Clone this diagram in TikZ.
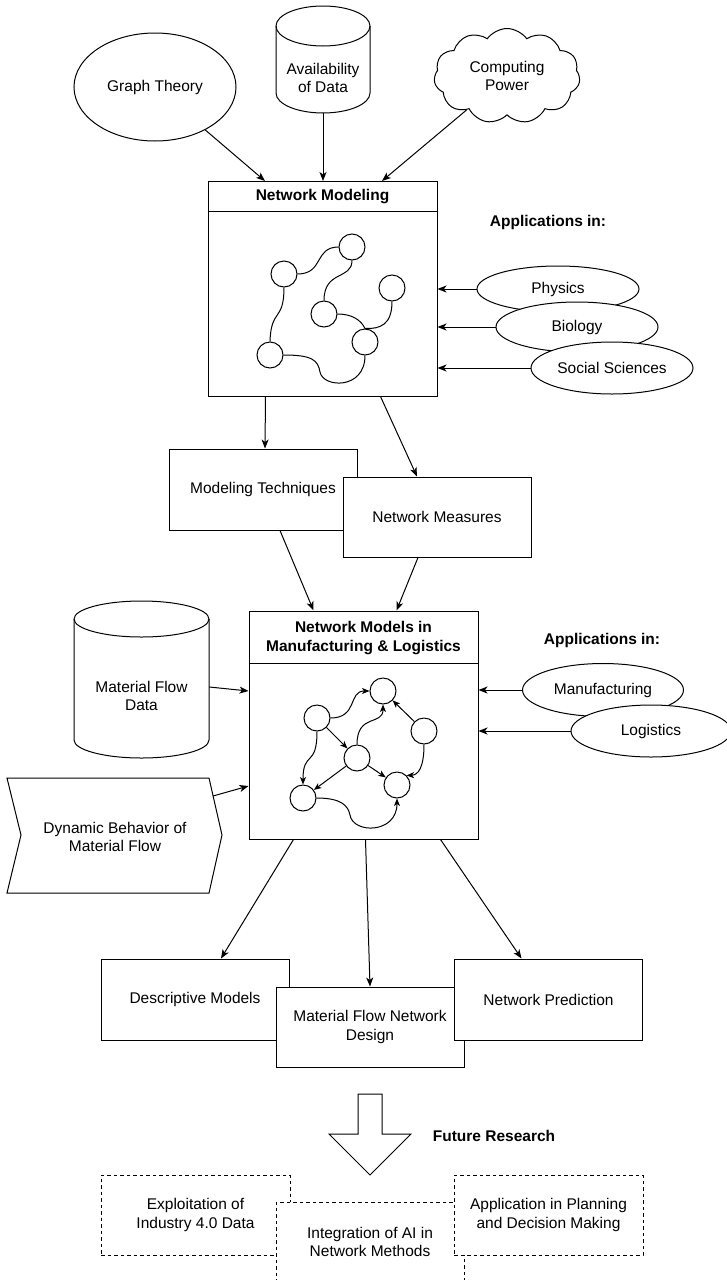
\documentclass[tikz,border=0pt]{standalone}
\usepackage{fontspec}
\setmainfont{Liberation Sans}
\usetikzlibrary{shapes.geometric,shapes.symbols,arrows.meta,calc}
\begin{document}
\begin{tikzpicture}[x=1pt,y=-1pt,
  every node/.style={font=\fontsize{15.5}{18.5}\selectfont, text=black},
  ln/.style={line width=1pt},
  arr/.style={ln,-{Stealth[length=9pt,width=7pt,inset=2.5pt]}},
  sarr/.style={line width=1pt,-{Stealth[length=7.5pt,width=6pt,inset=2pt]}},
  thin/.style={line width=1pt},
  box/.style={draw,ln,fill=white,rectangle,minimum width=188pt,minimum height=81pt,inner sep=0pt,align=center},
  dbox/.style={box,dash pattern=on 3.5pt off 3pt},
  ell/.style={draw,ln,fill=white,ellipse,inner sep=0pt,minimum width=162pt,align=center},
  dot/.style={draw,line width=1pt,circle,minimum size=26pt,inner sep=0pt},
  ttl/.style={font=\fontsize{15.5}{18.5}\selectfont\bfseries,align=center,inner sep=0pt},
  lbl/.style={align=center,inner sep=0pt}]
\useasboundingbox (0,0) rectangle (726,1280);

% ---------- top inputs ----------
\node[ell,minimum width=162pt,minimum height=108pt] (gt) at (155,87) {Graph Theory};

\draw[ln,fill=white] (276,26) -- (276,93) arc[start angle=180,end angle=360,x radius=47pt,y radius=20pt] -- (370,26) arc[start angle=0,end angle=180,x radius=47pt,y radius=20pt] -- cycle;
\draw[ln] (276,26) arc[start angle=180,end angle=360,x radius=47pt,y radius=20pt];
\node[lbl,minimum width=94pt,minimum height=107pt] (avail) at (323,59.5) {};
\node[lbl] (availt) at (323,78) {Availability\\of Data};

\node[cloud,draw,ln,fill=white,cloud puffs=11,cloud puff arc=110,aspect=1.55,minimum width=146pt,minimum height=95pt,inner sep=0pt,align=center] (cloud) at (507,76) {Computing\\Power};

% ---------- Network Modeling ----------
\node[draw,ln,fill=white,minimum width=229pt,minimum height=215pt,inner sep=0pt] (nmod) at (322.5,288.5) {};
\draw[ln] ([yshift=-31pt]nmod.north west) -- ([yshift=-31pt]nmod.north east);
\node[ttl] (nmodt) at (322.5,197) {Network Modeling};

\coordinate (t1) at (265,181);
\coordinate (t2) at (323,181);
\coordinate (t3) at (382,181);
\draw[arr] (gt) -- (t1);
\draw[arr] (avail) -- (t2);
\draw[arr] (cloud) -- (t3);

\node[dot] (c1) at (284,274) {};
\node[dot] (c2) at (352,247) {};
\node[dot] (c3) at (392,288) {};
\node[dot] (c4) at (324,314) {};
\node[dot] (c5) at (365,342) {};
\node[dot] (c6) at (270,355) {};
\draw[thin] (c1.east) .. controls (324,274) and (314,247) .. (c2.west);
\draw[thin] (c2.south) .. controls (352,280) and (324,270) .. (c4.north);
\draw[thin] (c1.south) .. controls (284,322) and (271,308) .. (c6.north);
\draw[thin] (c4.east) .. controls (352,314) and (361,320) .. (c5.north);
\draw[thin] (c3.south) .. controls (392,325) and (380,329) .. (c5.north);
\draw[thin] (c6.east) .. controls (312,355) and (318,360) .. (320,372) .. controls (323,388) and (365,390) .. (c5.south);

% ---------- Applications (top) ----------
\node[ttl] (app1) at (548,222) {Applications in:};
\node[ell,minimum height=46pt] (phys) at (558,289) {Physics};
\node[ell,minimum height=50pt] (bio) at (577,327) {Biology};
\node[ell,minimum height=52pt] (soc) at (612,368) {Social Sciences};
\draw[arr] (phys.west) -- (phys.west -| nmod.east);
\draw[arr] (bio.west) -- (bio.west -| nmod.east);
\draw[arr] (soc.west) -- (soc.west -| nmod.east);

% ---------- techniques / measures ----------
\node[box] (mt) at (263,489.5) {Modeling Techniques};
\node[box,minimum height=80pt] (nm) at (437,517) {Network Measures};
\draw[arr] ([xshift=58pt]nmod.south west) -- ([xshift=2pt]mt.north);
\draw[arr] ([xshift=173pt]nmod.south west) -- ([xshift=-20pt]nm.north);

% ---------- Network Models in M&L ----------
\node[draw,ln,fill=white,minimum width=229pt,minimum height=228pt,inner sep=0pt] (nmodels) at (363.5,725) {};
\draw[ln] ([yshift=-53pt]nmodels.north west) -- ([yshift=-53pt]nmodels.north east);
\node[ttl] (nmodelst) at (363.5,638) {Network Models in\\Manufacturing \& Logistics};

\draw[arr] ([xshift=17pt]mt.south) -- ([xshift=65pt]nmodels.north west);
\draw[arr] ([xshift=-19pt]nm.south) -- ([xshift=148pt]nmodels.north west);

\node[dot] (n1) at (317,718) {};
\node[dot] (n2) at (383,691) {};
\node[dot] (n3) at (424,731) {};
\node[dot] (n4) at (357,758) {};
\node[dot] (n5) at (397,785) {};
\node[dot] (n6) at (303,798) {};
\draw[sarr] (n1.east) .. controls (358,718) and (348,691) .. (n2.west);
\draw[sarr] (n1) -- (n4);
\draw[sarr] (n1.south) .. controls (317,768) and (303,750) .. (n6.north);
\draw[sarr] (n4.north) .. controls (357,713) and (383,726) .. (n2.south);
\draw[sarr] (n3) -- (n2);
\draw[sarr] (n4) -- (n6);
\draw[sarr] (n4) -- (n5);
\draw[sarr] (n3.south) .. controls (424,768) and (418,775) .. (n5.north east);
\draw[sarr] (n6.east) .. controls (342,798) and (348,806) .. (350,815) .. controls (353,834) and (397,834) .. (n5.south);

% ---------- left inputs ----------
\draw[ln,fill=white] (74,619) -- (74,740) arc[start angle=180,end angle=360,x radius=67.5pt,y radius=18pt] -- (209,619) arc[start angle=0,end angle=180,x radius=67.5pt,y radius=18pt] -- cycle;
\draw[ln] (74,619) arc[start angle=180,end angle=360,x radius=67.5pt,y radius=18pt];
\node[lbl,minimum width=135pt,minimum height=157pt] (mfd) at (141.5,679.5) {};
\node[lbl] (mfdt) at (141.5,696) {Material Flow\\Data};
\draw[arr] ([yshift=-7.5pt]mfd.east) -- ([yshift=34pt]nmodels.west);

\draw[ln,fill=white] (7,778) -- (209,778) -- (222,835) -- (209,893) -- (7,893) -- (21,835) -- cycle;
\node[lbl] (dyn) at (115,837) {Dynamic Behavior of\\Material Flow};
\coordinate (dynout) at (213,796);
\draw[arr] (dynout) -- ([yshift=-61pt]nmodels.west);

% ---------- Applications (middle) ----------
\node[ttl] (app2) at (602,640) {Applications in:};
\node[ell,minimum width=161pt,minimum height=53pt] (manu) at (603,690) {Manufacturing};
\node[ell,minimum width=160pt,minimum height=52pt] (logi) at (651,731) {Logistics};
\draw[arr] (manu.west) -- (manu.west -| nmodels.east);
\draw[arr] (logi.west) -- (logi.west -| nmodels.east);

% ---------- results ----------
\node[box] (desc) at (195,999.5) {Descriptive Models};
\node[box,minimum height=80pt] (mfnd) at (370,1027) {Material Flow Network\\Design};
\node[box] (np) at (548.5,999.5) {Network Prediction};
\draw[arr] ([xshift=45pt]nmodels.south west) -- ([xshift=26pt]desc.north);
\draw[arr] ([xshift=117pt]nmodels.south west) -- (mfnd.north);
\draw[arr] ([xshift=192pt]nmodels.south west) -- ([xshift=-27pt]np.north);

% ---------- future research ----------
\draw[ln,fill=white] (358,1094) -- (382,1094) -- (382,1134) -- (411,1134) -- (370,1175) -- (329,1134) -- (358,1134) -- cycle;
\node[ttl] (fr) at (494,1136) {Future Research};

\node[dbox,minimum width=189pt,minimum height=80pt] (expl) at (195.5,1215) {Exploitation of\\Industry 4.0 Data};
\node[dbox,minimum height=80pt] (integ) at (370,1242) {Integration of AI in\\Network Methods};
\node[dbox,minimum width=189pt,minimum height=80pt] (appl) at (548.5,1215) {Application in Planning\\and Decision Making};
\end{tikzpicture}
\end{document}
